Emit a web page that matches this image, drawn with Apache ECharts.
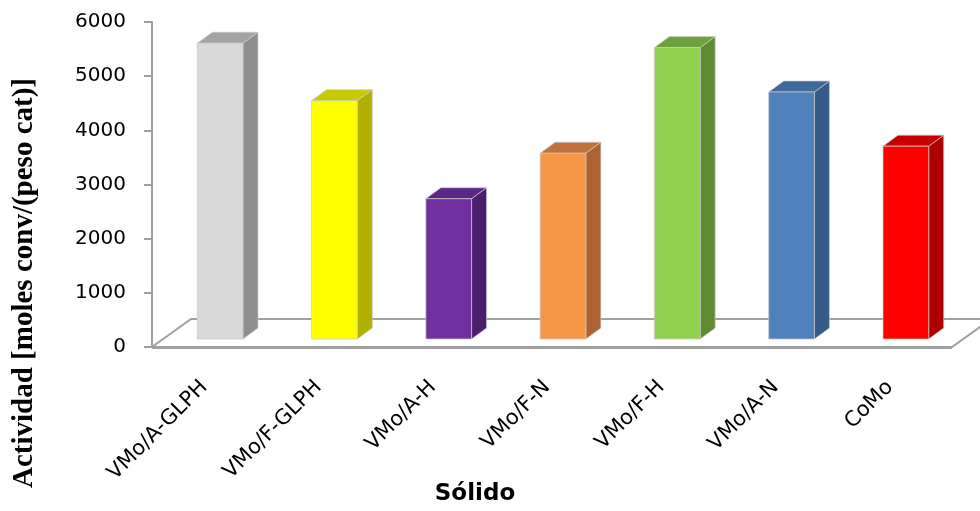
<!DOCTYPE html>
<html>
<head>
<meta charset="utf-8">
<script src="https://cdn.jsdelivr.net/npm/echarts@6/dist/echarts.min.js"></script>
<style>
  html, body { margin: 0; padding: 0; background: #fff; }
  #chart { width: 980px; height: 511px; }
</style>
</head>
<body>
<div id="chart"></div>
<script>
// Catalytic activity per solid
const categories = ['VMo/A-GLPH', 'VMo/F-GLPH', 'VMo/A-H', 'VMo/F-N', 'VMo/F-H', 'VMo/A-N', 'CoMo'];
const actividad = [5460, 4400, 2590, 3430, 5380, 4560, 3560];

// value axis ticks
const yMin = 0;
const yMax = 6000;
const yStep = 1000;

// face colours per column: front, right side, top
const frontColors = ['#d9d9d9', '#ffff00', '#7030a0', '#f79646', '#92d050', '#4f81bd', '#ff0000'];
const sideColors  = ['#8e8e8e', '#b0b000', '#4b1f6e', '#ad6331', '#5e8b32', '#355b88', '#ad0000'];
const topColors   = ['#a3a3a3', '#c9c900', '#592886', '#c27238', '#6ca23c', '#3f689b', '#c40000'];

// oblique projection offsets (pixels)
const FLOOR_DX = 39, FLOOR_DY = -28;   // floor depth
const FACE_DX = 11, FACE_DY = -8;      // front face of columns sits inside the floor
const DEPTH_DX = 15, DEPTH_DY = -11;   // column depth

const AXIS_GREY = '#a0a0a0';

function renderFloor(params, api) {
  const cs = params.coordSys;
  const x0 = cs.x, x1 = cs.x + cs.width, y0 = cs.y + cs.height;
  return {
    type: 'group',
    children: [
      {
        type: 'polygon',
        shape: { points: [[x0, y0], [x1, y0], [x1 + FLOOR_DX, y0 + FLOOR_DY], [x0 + FLOOR_DX, y0 + FLOOR_DY]] },
        style: { fill: '#ffffff', stroke: AXIS_GREY, lineWidth: 2 }
      },
      {
        type: 'line',
        shape: { x1: x0, y1: y0 + 0.5, x2: x1, y2: y0 + 0.5 },
        style: { stroke: AXIS_GREY, lineWidth: 3 }
      }
    ]
  };
}

function renderColumn(params, api) {
  const i = api.value(0);
  const top = api.coord([i, api.value(1)]);
  const base = api.coord([i, 0]);
  const w = api.size([1, 0])[0] * 0.4;
  const xl = top[0] - w / 2 + FACE_DX;
  const xr = top[0] + w / 2 + FACE_DX;
  const yt = top[1] + FACE_DY;
  const yb = base[1] + FACE_DY;
  const edge = 'rgba(200,200,200,0.9)';
  return {
    type: 'group',
    children: [
      {
        type: 'polygon',
        shape: { points: [[xr, yt], [xr + DEPTH_DX, yt + DEPTH_DY], [xr + DEPTH_DX, yb + DEPTH_DY], [xr, yb]] },
        style: { fill: sideColors[i], stroke: edge, lineWidth: 0.8 }
      },
      {
        type: 'polygon',
        shape: { points: [[xl, yt], [xl + DEPTH_DX, yt + DEPTH_DY], [xr + DEPTH_DX, yt + DEPTH_DY], [xr, yt]] },
        style: { fill: topColors[i], stroke: edge, lineWidth: 0.8 }
      },
      {
        type: 'rect',
        shape: { x: xl, y: yt, width: xr - xl, height: yb - yt },
        style: { fill: frontColors[i], stroke: edge, lineWidth: 0.8 }
      }
    ]
  };
}

const chart = echarts.init(document.getElementById('chart'), null, { renderer: 'canvas' });

chart.setOption({
  animation: false,
  backgroundColor: '#ffffff',
  grid: { left: 152, right: 28, top: 22, bottom: 164, containLabel: false },
  xAxis: {
    type: 'category',
    data: categories,
    axisLine: { show: false },
    axisTick: { show: false },
    axisLabel: {
      rotate: 45,
      margin: 32,
      padding: [0, 7, 0, 0],
      color: '#000',
      fontFamily: 'DejaVu Sans',
      fontSize: 21,
      interval: 0
    },
    splitLine: { show: false }
  },
  yAxis: {
    type: 'value',
    min: yMin,
    max: yMax,
    interval: yStep,
    axisLine: { show: true, lineStyle: { color: AXIS_GREY, width: 2 } },
    axisTick: { show: true, length: 8, lineStyle: { color: AXIS_GREY, width: 2 } },
    axisLabel: {
      margin: 26,
      color: '#000',
      fontFamily: 'DejaVu Sans',
      fontSize: 20,
      formatter: (v) => String(v)
    },
    splitLine: { show: false }
  },
  graphic: [
    {
      type: 'text',
      x: 475, y: 494,
      style: {
        text: 'Sólido',
        fill: '#000',
        font: 'bold 23px "DejaVu Sans"',
        align: 'center',
        verticalAlign: 'middle'
      }
    },
    {
      type: 'text',
      x: 25, y: 283,
      rotation: Math.PI / 2,
      style: {
        text: 'Actividad [moles conv/(peso cat)]',
        fill: '#000',
        font: 'bold 29px "Liberation Serif"',
        align: 'center',
        verticalAlign: 'middle'
      }
    }
  ],
  series: [
    {
      type: 'custom',
      name: 'floor',
      coordinateSystem: 'cartesian2d',
      renderItem: renderFloor,
      data: [[0, 0]],
      z: 1,
      silent: true
    },
    {
      type: 'custom',
      name: 'Actividad',
      coordinateSystem: 'cartesian2d',
      renderItem: renderColumn,
      encode: { x: 0, y: 1 },
      data: actividad.map((v, i) => [i, v]),
      z: 3
    }
  ]
});
</script>
</body>
</html>
